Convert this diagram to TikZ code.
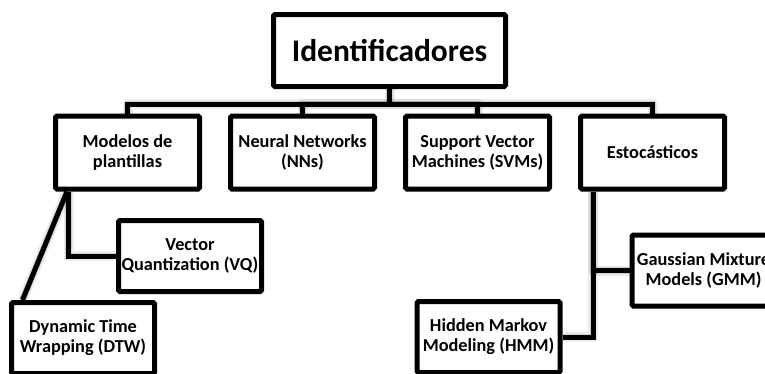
\documentclass[tikz,border=0pt]{standalone}
\usepackage{fontspec}
\setmainfont{Carlito}
\usetikzlibrary{calc}
\begin{document}
\begin{tikzpicture}[x=1pt,y=-1pt,
  conn/.style={line width=5pt,line join=miter,black},
  connshade/.style={line width=10pt,line join=round,black,opacity=0.07},
  connshadeb/.style={line width=6.5pt,line join=miter,black,opacity=0.12},
  box/.style={draw,line width=5pt,fill=white,rounded corners=1.5pt,inner sep=0pt,
    align=center,font=\bfseries\fontsize{18.3}{20}\selectfont},
  lvltwo/.style={box,minimum width=144pt,minimum height=73pt},
  lvlthree/.style={box,minimum width=143pt,minimum height=71pt},
  rootbox/.style={box,minimum width=232pt,minimum height=72pt,
    font=\bfseries\fontsize{31.5}{34}\selectfont}]
\useasboundingbox (0,0) rectangle (765,373);
\clip (0,0) rectangle (765,373);

% node positions
\path
  (389.5,50.5) coordinate (pTop)
  (127.5,152.5) coordinate (pMod)
  (302.5,152.5) coordinate (pNN)
  (477.5,152.5) coordinate (pSVM)
  (652.5,152.5) coordinate (pEst)
  (190,256) coordinate (pVQ)
  (83,338) coordinate (pDTW)
  (488.5,337) coordinate (pHMM)
  (703.5,270.5) coordinate (pGMM);

% boxes are placed first (invisible) to get their anchors
\begin{scope}[opacity=0]
\node[rootbox] (top) at (pTop) {};
\node[lvltwo] (mod) at (pMod) {};
\node[lvltwo] (nn) at (pNN) {};
\node[lvltwo] (svm) at (pSVM) {};
\node[lvltwo] (est) at (pEst) {};
\node[lvlthree] (vq) at (pVQ) {};
\node[lvlthree] (dtw) at (pDTW) {};
\node[lvlthree] (hmm) at (pHMM) {};
\node[lvlthree] (gmm) at (pGMM) {};
\end{scope}

\coordinate (bus) at ($(top.south)+(0,15)$);
\coordinate (modstem) at ($(mod.south west)+(15.5,0)$);
\coordinate (modslant) at ($(mod.south west)+(14,0)$);
\coordinate (estem) at ($(est.south west)+(15,0)$);

% soft shadow under the connectors
\foreach \sty/\dx/\dy in {connshade/1.5/3.5, connshadeb/1/2.5}{
  \begin{scope}[shift={(\dx,\dy)}]
    \draw[\sty] (top.south) -- (bus);
    \draw[\sty] (bus) -| (mod.north);
    \draw[\sty] (bus) -| (est.north);
    \draw[\sty] (bus) -| (nn.north);
    \draw[\sty] (bus) -| (svm.north);
    \draw[\sty] (modstem) |- (vq.west);
    \draw[\sty] (modslant) -- ($(dtw.north west)+(13.5,0)$);
    \draw[\sty] (estem) |- (gmm.west);
    \draw[\sty] (estem) |- (hmm.east);
  \end{scope}
}

% connectors
\draw[conn] (top.south) -- (bus);
\draw[conn] (bus) -| (mod.north);
\draw[conn] (bus) -| (nn.north);
\draw[conn] (bus) -| (svm.north);
\draw[conn] (bus) -| (est.north);
\draw[conn] (modstem) |- (vq.west);
\draw[conn] (modslant) -- ($(dtw.north west)+(13.5,0)$);
\draw[conn] (estem) |- (gmm.west);
\draw[conn] (estem) |- (hmm.east);

% boxes
\node[rootbox] at (pTop) {Identificadores};
\node[lvltwo] at (pMod) {Modelos de\\plantillas};
\node[lvltwo] at (pNN) {Neural Networks\\(NNs)};
\node[lvltwo] at (pSVM) {Support Vector\\Machines (SVMs)};
\node[lvltwo] at (pEst) {Estocásticos};
\node[lvlthree] at (pVQ) {Vector\\Quantization (VQ)};
\node[lvlthree] at (pDTW) {Dynamic Time\\Wrapping (DTW)};
\node[lvlthree] at (pHMM) {Hidden Markov\\Modeling (HMM)};
\node[lvlthree] at (pGMM) {Gaussian Mixture\\Models (GMM)};
\end{tikzpicture}
\end{document}
